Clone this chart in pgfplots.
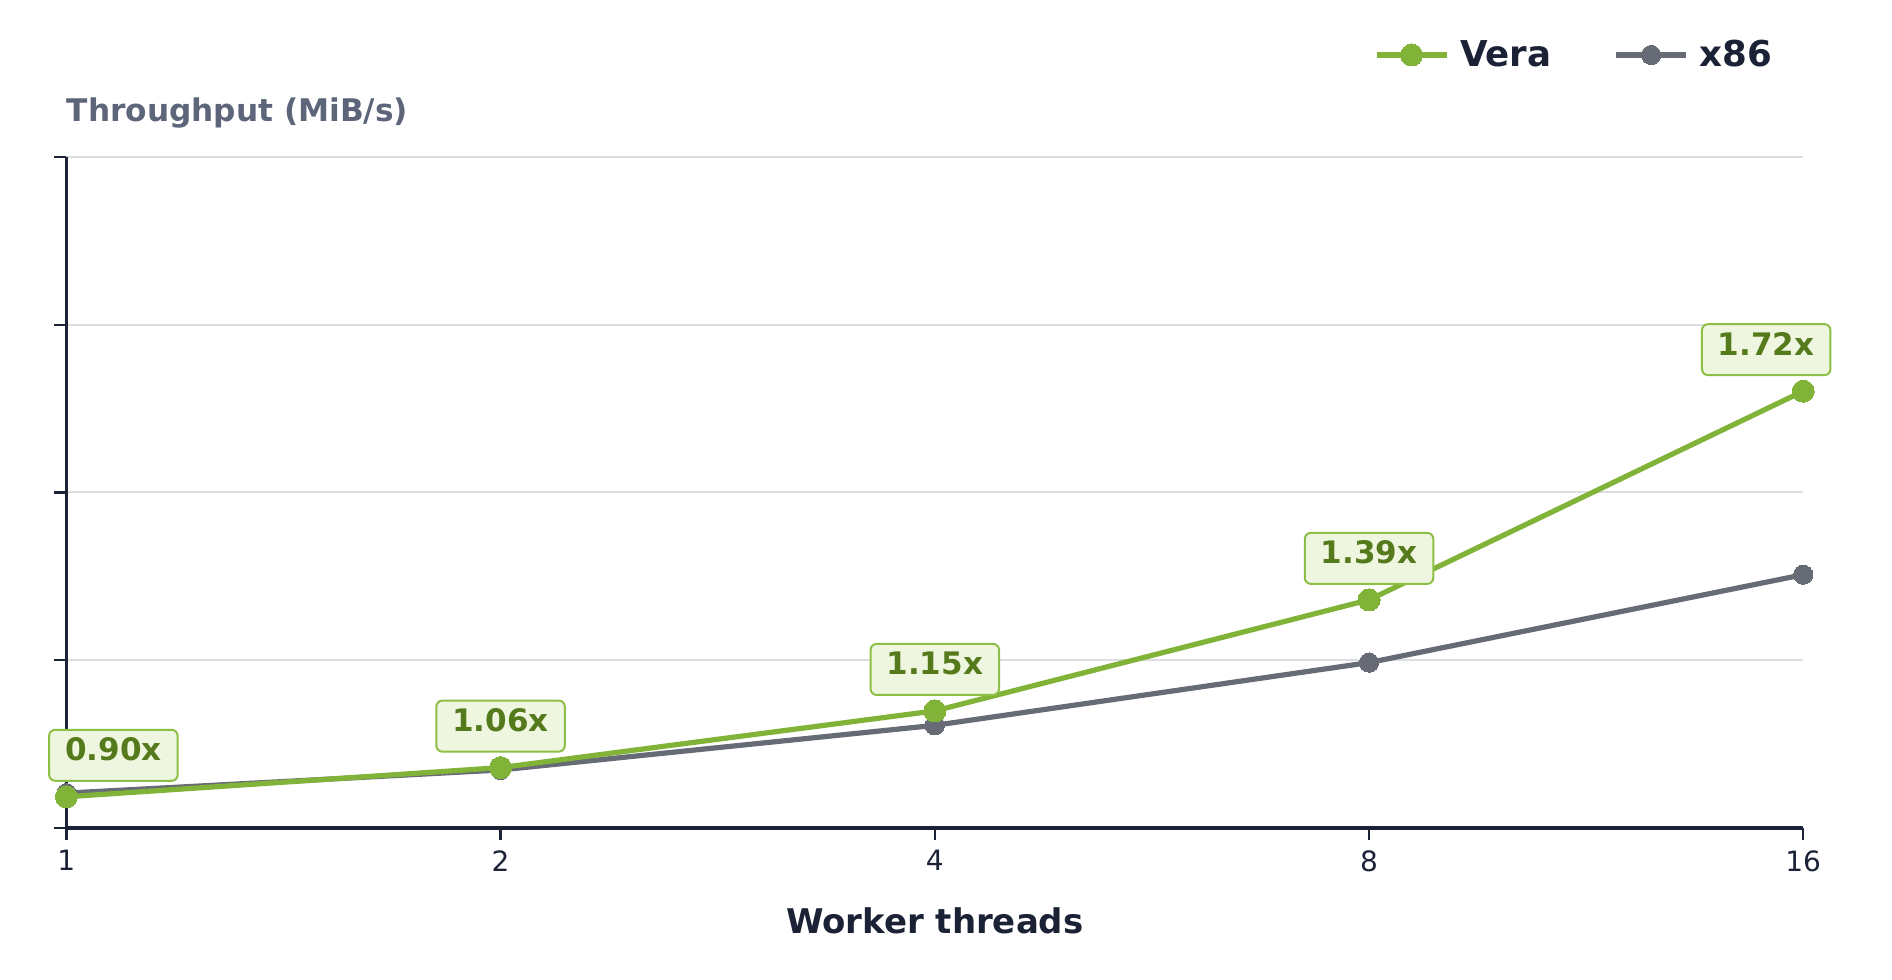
\documentclass[border=0pt]{standalone}
\usepackage{pgfplots}
\pgfplotsset{compat=1.18}
\usepackage{fontspec}
\setmainfont{DejaVu Sans}
\definecolor{vera}{HTML}{80B337}
\definecolor{xgray}{HTML}{676B75}
\definecolor{axcol}{HTML}{1B2236}
\definecolor{ylab}{HTML}{5C6579}
\definecolor{gridc}{HTML}{DDDEE2}
\definecolor{lbltext}{HTML}{557A1B}
\definecolor{lblfill}{HTML}{EEF6DF}
\definecolor{lblborder}{HTML}{8DBE45}
\begin{document}
\begin{tikzpicture}[
  lbl/.style={draw=lblborder, fill=lblfill, rounded corners=3pt, line width=1pt,
    text=lbltext, font=\bfseries\fontsize{15.5}{18}\selectfont,
    inner xsep=8pt, inner ysep=4pt, text height=11.5pt, text depth=6pt,
    anchor=south, yshift=7.5pt}]
\path[use as bounding box] (-33.2pt,-76pt) rectangle (912.8pt,414pt);
\begin{axis}[
  at={(0pt,0pt)}, anchor=south west,
  scale only axis,
  width=868.4pt, height=335.5pt,
  xmode=log, log basis x=2,
  xmin=1, xmax=16, ymin=0, ymax=2000,
  xtick={1,2,4,8,16}, xticklabels={1,2,4,8,16},
  ytick={0,500,1000,1500,2000}, yticklabels={},
  axis x line*=bottom, axis y line*=left,
  axis line style={axcol, line width=1.7pt, -},
  tick style={axcol, line width=1.2pt},
  tick align=outside, major tick length=6pt,
  ymajorgrids, grid style={gridc, line width=1pt},
  ticklabel style={text=axcol, font=\fontsize{14}{16}\selectfont},
  xticklabel style={yshift=-1.7pt},
  /pgf/number format/assume math mode=true,
  xlabel={Worker threads},
  xlabel style={at={(axis description cs:0.5,0)}, anchor=center, yshift=-46.5pt,
    font=\bfseries\fontsize{17}{20}\selectfont, text=axcol},
  clip=false,
  legend columns=2, reverse legend,
  legend style={at={(axis description cs:1,1)}, anchor=east, xshift=-13.3pt, yshift=51pt,
    draw=none, fill=none, inner sep=0pt,
    font=\bfseries\fontsize{17.8}{20}\selectfont, text=axcol,
    /tikz/every odd column/.style={column sep=3.5pt},
    /tikz/every even column/.style={column sep=29pt}},
  legend image code/.code={\draw[mark repeat=2,mark phase=2] plot coordinates {(0pt,0pt) (17.5pt,0pt) (35pt,0pt)};},
]
\addplot[xgray, line width=2.6pt, mark=*, mark size=4.8pt, mark options={fill=xgray, draw=xgray, line width=0pt}]
  coordinates {(1,104) (2,173) (4,306) (8,493) (16,755)};
\addlegendentry{x86}
\addplot[vera, line width=2.6pt, mark=*, mark size=5.5pt, mark options={fill=vera, draw=vera, line width=0pt}]
  coordinates {(1,93) (2,180) (4,349) (8,680) (16,1302)};
\addlegendentry{Vera}
\node[lbl, xshift=23.5pt] at (axis cs:1,93) {0.90x};
\node[lbl] at (axis cs:2,180) {1.06x};
\node[lbl] at (axis cs:4,349) {1.15x};
\node[lbl] at (axis cs:8,680) {1.39x};
\node[lbl, xshift=-18.5pt] at (axis cs:16,1302) {1.72x};
\node[anchor=west, inner sep=0pt, text=ylab, font=\bfseries\fontsize{15.6}{19}\selectfont]
  at ([yshift=22pt]rel axis cs:0,1) {Throughput (MiB/s)};
\end{axis}
\end{tikzpicture}
\end{document}
